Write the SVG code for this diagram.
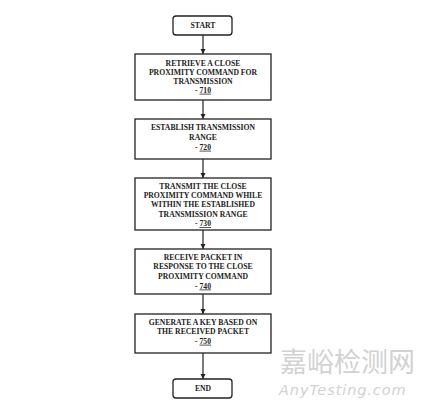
<svg xmlns="http://www.w3.org/2000/svg" width="424" height="409" viewBox="0 0 424 409">
<style>
.box{fill:#fff;stroke:#222;stroke-width:1.3}
.t{font-family:"Liberation Serif","Times New Roman",serif;font-weight:bold;font-size:7.7px;fill:#222;text-anchor:middle}
.n{text-decoration:underline}
.c{stroke:#222;stroke-width:1.2;fill:none}
.wm{font-family:"Noto Sans CJK SC",sans-serif;font-size:27px;fill:#d2d2d2;}
.wm2{font-family:"DejaVu Sans",sans-serif;font-style:italic;font-size:14.5px;fill:#d2d2d2;letter-spacing:0.9px}
</style>
<defs>
<marker id="ah" markerWidth="6" markerHeight="6" refX="5" refY="3" orient="auto" markerUnits="userSpaceOnUse">
<path d="M0,0.5 L5,3 L0,5.5 Z" fill="#222"/>
</marker>
</defs>
<rect width="424" height="409" fill="#fff"/>
<g id="connectors">
<line class="c" x1="203" y1="35" x2="203" y2="54" marker-end="url(#ah)"/>
<line class="c" x1="203" y1="100" x2="203" y2="119" marker-end="url(#ah)"/>
<line class="c" x1="203" y1="159" x2="203" y2="178" marker-end="url(#ah)"/>
<line class="c" x1="203" y1="230" x2="203" y2="249" marker-end="url(#ah)"/>
<line class="c" x1="203" y1="294" x2="203" y2="314" marker-end="url(#ah)"/>
<line class="c" x1="203" y1="353" x2="203" y2="379" marker-end="url(#ah)"/>
</g>
<g id="start">
<rect class="box" x="173" y="16" width="59" height="19" rx="3"/>
<text class="t" x="203" y="27.5">START</text>
</g>
<g id="n710">
<rect class="box" x="135" y="54" width="136" height="46"/>
<text class="t" x="203" y="65.7">RETRIEVE A CLOSE</text>
<text class="t" x="203" y="74.7">PROXIMITY COMMAND FOR</text>
<text class="t" x="203" y="83.7">TRANSMISSION</text>
<text class="t" x="203" y="92.7">- <tspan class="n">710</tspan></text>
</g>
<g id="n720">
<rect class="box" x="135" y="119" width="136" height="40"/>
<text class="t" x="203" y="129.7">ESTABLISH TRANSMISSION</text>
<text class="t" x="203" y="139.7">RANGE</text>
<text class="t" x="203" y="149.7">- <tspan class="n">720</tspan></text>
</g>
<g id="n730">
<rect class="box" x="135" y="178" width="136" height="52"/>
<text class="t" x="203" y="188.7">TRANSMIT THE CLOSE</text>
<text class="t" x="203" y="198">PROXIMITY COMMAND WHILE</text>
<text class="t" x="203" y="207.2">WITHIN THE ESTABLISHED</text>
<text class="t" x="203" y="216.5">TRANSMISSION RANGE</text>
<text class="t" x="203" y="226">- <tspan class="n">730</tspan></text>
</g>
<g id="n740">
<rect class="box" x="135" y="249" width="136" height="45"/>
<text class="t" x="203" y="259.7">RECEIVE PACKET IN</text>
<text class="t" x="203" y="268.9">RESPONSE TO THE CLOSE</text>
<text class="t" x="203" y="278.5">PROXIMITY COMMAND</text>
<text class="t" x="203" y="288.5">- <tspan class="n">740</tspan></text>
</g>
<g id="n750">
<rect class="box" x="135" y="314" width="136" height="39"/>
<text class="t" x="203" y="324.7">GENERATE A KEY BASED ON</text>
<text class="t" x="203" y="334">THE RECEIVED PACKET</text>
<text class="t" x="203" y="343.7">- <tspan class="n">750</tspan></text>
</g>
<g id="end">
<rect class="box" x="173" y="379" width="59" height="19" rx="3"/>
<text class="t" x="203" y="390.5">END</text>
</g>
<g id="watermark">
<text class="wm" x="280" y="372">嘉峪检测网</text>
<text class="wm2" x="279" y="395">AnyTesting.com</text>
</g>
</svg>
